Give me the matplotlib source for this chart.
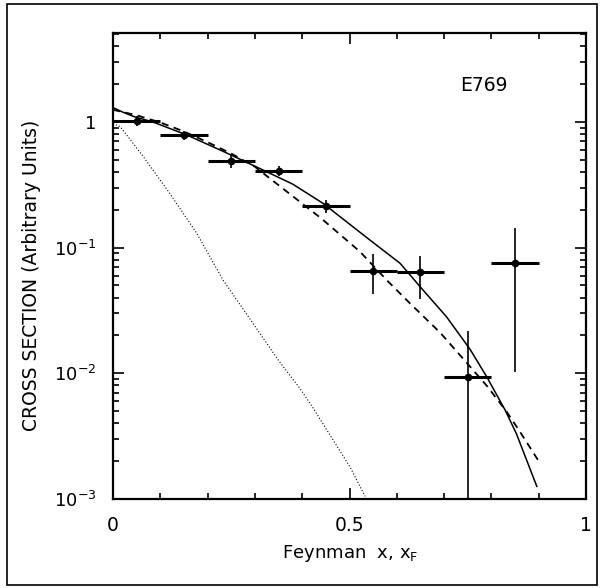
import matplotlib
matplotlib.use('Agg')
from matplotlib import pyplot as plt
from matplotlib.patches import Rectangle
from matplotlib.ticker import FixedLocator, LogLocator, NullFormatter


# data points

x_pts = [0.05, 0.15, 0.25, 0.35, 0.45, 0.55, 0.65, 0.75, 0.85]
y_pts = [1.02, 0.78, 0.485, 0.41, 0.214, 0.0655, 0.0634, 0.0093, 0.076]
y_lo = [0.92, 0.72, 0.43, 0.37, 0.19, 0.043, 0.039, 0.0001, 0.0102]
y_hi = [1.12, 0.84, 0.56, 0.45, 0.24, 0.0885, 0.086, 0.0216, 0.142]
x_half = [0.05] * 9

# model curves

solid_x = [0.0, 0.02, 0.045, 0.084, 0.155, 0.23, 0.314, 0.38, 0.444, 0.543, 0.607, 0.649, 0.705, 0.755, 0.79, 0.829, 0.853, 0.896]
solid_y = [1.3, 1.2, 1.1, 1.0, 0.79, 0.59, 0.42, 0.32, 0.225, 0.115, 0.075, 0.049, 0.0282, 0.0155, 0.0094, 0.0051, 0.0033, 0.00126]

dash_x = [0.0, 0.05, 0.1, 0.15, 0.2, 0.25, 0.3, 0.336, 0.441, 0.522, 0.579, 0.628, 0.692, 0.748, 0.791, 0.833, 0.861, 0.9]
dash_y = [1.25, 1.13, 0.99, 0.84, 0.69, 0.56, 0.44, 0.345, 0.17, 0.093, 0.055, 0.036, 0.021, 0.0121, 0.0079, 0.0049, 0.0034, 0.0020]

dot_x = [0.0, 0.015, 0.064, 0.12, 0.177, 0.233, 0.351, 0.395, 0.423, 0.501, 0.533]
dot_y = [0.97, 0.92, 0.53, 0.27, 0.13, 0.055, 0.0125, 0.0076, 0.0053, 0.0018, 0.00105]

x_ticks = [0, 0.5, 1]
x_ticklabels = ['0', '0.5', '1']
y_ticks = [1e-3, 1e-2, 1e-1, 1]
y_ticklabels = [r'$10^{-3}$', r'$10^{-2}$', r'$10^{-1}$', '1']


plt.rcParams['mathtext.default'] = 'regular'
plt.rcParams['font.family'] = 'DejaVu Sans'

fig = plt.figure(figsize=(6, 5.88), dpi=100)
ax = fig.add_axes([113/600, 1 - 499/588, 473/600, 466/588])

# curves
ax.plot(solid_x, solid_y, color='black', linewidth=1.1)
ax.plot(dash_x, dash_y, color='black', linewidth=1.3, linestyle=(0, (4, 3)))
ax.plot(dot_x, dot_y, color='black', linewidth=0.8, linestyle=(0, (1, 1.8)))

# error bars: thick horizontal, thin vertical
yerr = [[y - lo for y, lo in zip(y_pts, y_lo)], [hi - y for y, hi in zip(y_pts, y_hi)]]
ax.errorbar(x_pts, y_pts, xerr=x_half, fmt='none', ecolor='black', elinewidth=2.2, capsize=0)
ax.errorbar(x_pts, y_pts, yerr=yerr, fmt='o', color='black', ms=4.5, elinewidth=1.2, capsize=0)

# axes settings
ax.set_yscale('log')
ax.set_xlim(0, 1)
ax.set_ylim(1e-3, 5.1)
ax.set_xticks(x_ticks)
ax.set_xticklabels(x_ticklabels, fontsize=13.5)
ax.xaxis.set_minor_locator(FixedLocator([0.1, 0.2, 0.3, 0.4, 0.6, 0.7, 0.8, 0.9]))
ax.set_yticks(y_ticks)
ax.set_yticklabels(y_ticklabels, fontsize=13)
ax.yaxis.set_minor_locator(LogLocator(base=10, subs=range(2, 10), numticks=20))
ax.yaxis.set_minor_formatter(NullFormatter())

ax.tick_params(which='both', direction='in', top=True, right=True, width=1.2, color='black')
ax.tick_params(which='major', length=8, pad=12)
ax.tick_params(which='minor', length=4)
for s in ax.spines.values():
    s.set_linewidth(1.6)

# labels
ax.text(0.785, 1.95, 'E769', ha='center', va='center', fontsize=13.5)
fig.text(32/600, 1 - 275/588, 'CROSS SECTION (Arbitrary Units)', rotation=90,
         ha='center', va='center', fontsize=13.5)
fig.text(350/600, 1 - 554/588, r'Feynman  x, x$_{F}$', ha='center', va='center', fontsize=13)

# outer frame
fig.patches.append(Rectangle((7/600, 3/588), 590/600, 581/588, fill=False,
                             linewidth=1.2, edgecolor='black', transform=fig.transFigure))

fig.savefig('out.png', dpi=100)
